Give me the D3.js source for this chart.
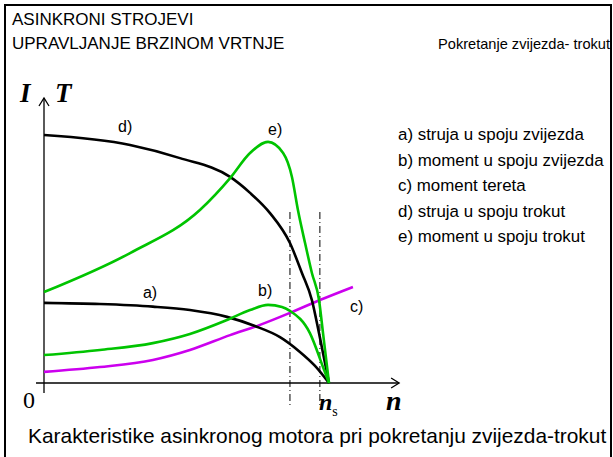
<!DOCTYPE html>
<html>
<head>
<meta charset="utf-8">
<script src="https://cdn.jsdelivr.net/npm/d3@7"></script>
<style>
  body { margin: 0; background: #fff; }
  text { font-family: Arial, "Liberation Sans", sans-serif; }
  .serif { font-family: "Times New Roman", "Liberation Serif", serif; }
</style>
</head>
<body>
<div id="chart"></div>
<script>
// speed axis: n / n_s (1 = synchronous speed), values in relative units
const curveD = [[0, 8.70], [0.302, 8.35], [0.477, 7.89], [0.653, 7.23], [0.723, 6.67], [0.793, 5.96], [0.863, 4.91], [0.905, 3.86], [0.940, 2.91], [0.965, 1.75], [1, 0]];
const curveE = [[0, 3.19], [0.302, 4.56], [0.547, 6.07], [0.653, 7.19], [0.723, 8.07], [0.786, 8.46], [0.839, 8.07], [0.870, 7.23], [0.891, 6.07], [0.916, 4.91], [0.940, 3.86], [0.965, 2.91], [0.979, 1.75], [1, 0]];
const curveA = [[0, 2.81], [0.196, 2.77], [0.382, 2.68], [0.512, 2.56], [0.642, 2.32], [0.740, 2.00], [0.828, 1.61], [0.898, 1.09], [0.951, 0.60], [1, 0]];
const curveB = [[0, 0.98], [0.196, 1.16], [0.382, 1.40], [0.512, 1.72], [0.642, 2.21], [0.723, 2.56], [0.786, 2.74], [0.835, 2.67], [0.863, 2.53], [0.933, 1.75], [0.979, 0.56], [1, 0]];
const curveC = [[0, 0.39], [0.196, 0.56], [0.382, 0.81], [0.512, 1.16], [0.653, 1.68], [0.758, 2.04], [0.863, 2.46], [0.968, 2.91], [1.084, 3.37]];

const switchSpeeds = [0.863, 0.968];
const curveLabels = [
    {key: "d)", n: 0.26, v: 8.84},
    {key: "e)", n: 0.786, v: 8.72},
    {key: "a)", n: 0.347, v: 3.02},
    {key: "b)", n: 0.751, v: 3.09},
    {key: "c)", n: 1.074, v: 2.53}
];
const legendItems = [
    "a) struja u spoju zvijezda",
    "b) moment u spoju zvijezda",
    "c) moment tereta",
    "d) struja u spoju trokut",
    "e) moment u spoju trokut"
];

const width = 613, height = 457;
const svg = d3.select("#chart").append("svg")
    .attr("width", width)
    .attr("height", height);

// slide frame (no bottom edge)
svg.append("path")
    .attr("d", "M5,460 V5 H611 V460")
    .attr("fill", "none")
    .attr("stroke", "#000")
    .attr("stroke-width", 2);

// header
svg.append("text").attr("x", 12).attr("y", 25).attr("font-size", 17).text("ASINKRONI STROJEVI");
svg.append("text").attr("x", 12).attr("y", 49).attr("font-size", 17).text("UPRAVLJANJE BRZINOM VRTNJE");
svg.append("text").attr("x", 610).attr("y", 49).attr("font-size", 14.6)
    .attr("text-anchor", "end").text("Pokretanje zvijezda- trokut");

// scales
const x = d3.scaleLinear().domain([0, 1]).range([44, 329]);
const y = d3.scaleLinear().domain([0, 10]).range([383, 98]);

// axes (plain lines with open arrow heads)
const axisG = svg.append("g").attr("stroke", "#000").attr("stroke-width", 1.3).attr("fill", "none");
axisG.append("line").attr("x1", x(-0.028)).attr("x2", x(1.246)).attr("y1", y(0)).attr("y2", y(0));
axisG.append("line").attr("x1", x(0)).attr("x2", x(0)).attr("y1", y(-0.35)).attr("y2", y(10));
axisG.append("path").attr("d", `M${x(1.246) - 8},${y(0) - 5} L${x(1.246)},${y(0)} L${x(1.246) - 8},${y(0) + 5}`);
axisG.append("path").attr("d", `M${x(0) - 5},${y(10) + 8} L${x(0)},${y(10)} L${x(0) + 5},${y(10) + 8}`);

// switch-over dash-dot lines
svg.selectAll(".switch")
    .data(switchSpeeds)
    .enter().append("line")
    .attr("class", "switch")
    .attr("x1", d => x(d)).attr("x2", d => x(d))
    .attr("y1", y(6.0)).attr("y2", y(-0.8))
    .attr("stroke", "#000")
    .attr("stroke-width", 1)
    .attr("stroke-dasharray", "7,3,1,3");

const line = d3.line()
    .x(d => x(d[0]))
    .y(d => y(d[1]))
    .curve(d3.curveMonotoneX);

const series = [
    {data: curveC, color: "#cc00ee"},
    {data: curveA, color: "#000"},
    {data: curveD, color: "#000"},
    {data: curveB, color: "#00c400"},
    {data: curveE, color: "#00c400"}
];
svg.selectAll(".curve")
    .data(series)
    .enter().append("path")
    .attr("class", "curve")
    .attr("d", d => line(d.data))
    .attr("fill", "none")
    .attr("stroke", d => d.color)
    .attr("stroke-width", 2.6);

// curve labels
svg.selectAll(".clabel")
    .data(curveLabels)
    .enter().append("text")
    .attr("class", "clabel")
    .attr("x", d => x(d.n))
    .attr("y", d => y(d.v) + 1)
    .attr("font-size", 16)
    .text(d => d.key);

// legend
svg.selectAll(".legend")
    .data(legendItems)
    .enter().append("text")
    .attr("class", "legend")
    .attr("x", 398)
    .attr("y", (d, i) => 140 + i * 25.5)
    .attr("font-size", 16.9)
    .text(d => d);

// axis titles
svg.append("text").attr("class", "serif").attr("x", 20).attr("y", 102)
    .attr("font-size", 27).attr("font-weight", "bold").attr("font-style", "italic").text("I");
svg.append("text").attr("class", "serif").attr("x", 55).attr("y", 102)
    .attr("font-size", 27).attr("font-weight", "bold").attr("font-style", "italic").text("T");
svg.append("text").attr("class", "serif").attr("x", 23).attr("y", 408)
    .attr("font-size", 24).text("0");
svg.append("text").attr("class", "serif").attr("x", 386).attr("y", 410)
    .attr("font-size", 28).attr("font-weight", "bold").attr("font-style", "italic").text("n");
const ns = svg.append("text").attr("class", "serif").attr("x", 319).attr("y", 410);
ns.append("tspan").attr("font-size", 24).attr("font-weight", "bold").attr("font-style", "italic").text("n");
ns.append("tspan").attr("font-size", 14).attr("dy", 6).text("s");

// caption
svg.append("text").attr("x", 28).attr("y", 443).attr("font-size", 20.9)
    .text("Karakteristike asinkronog motora pri pokretanju zvijezda-trokut");
</script>
</body>
</html>
